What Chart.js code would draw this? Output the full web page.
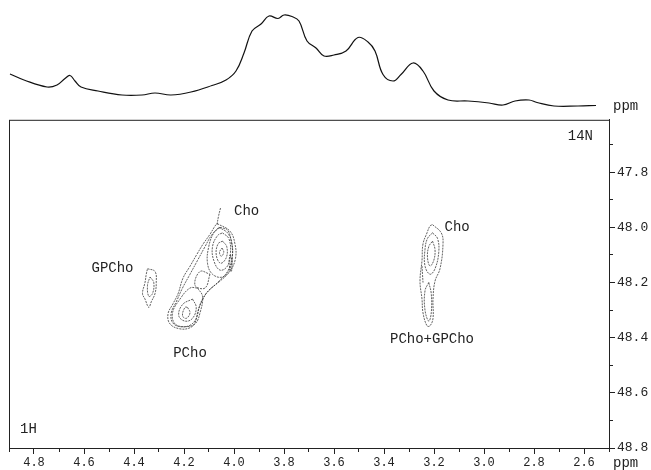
<!DOCTYPE html>
<html>
<head>
<meta charset="utf-8">
<title>1H-14N correlation spectrum</title>
<script src="https://cdn.jsdelivr.net/npm/chart.js"></script>
<style>
  body{margin:0;background:#fff;}
  #wrap{position:relative;width:651px;height:470px;}
  #specTop{position:absolute;left:0;top:0;}
  #map2d{position:absolute;left:0;top:110px;}
</style>
</head>
<body>
<div id="wrap">
  <canvas id="specTop" width="651" height="115"></canvas>
  <canvas id="map2d" width="651" height="360"></canvas>
</div>
<script>
// 1H projection (top trace)
const specPpm = [4.90,4.844,4.752,4.712,4.68,4.66,4.64,4.616,4.548,4.452,4.372,4.32,4.256,4.176,4.092,4.036,3.996,3.964,3.932,3.896,3.864,3.828,3.804,3.772,3.744,3.712,3.676,3.644,3.604,3.556,3.508,3.468,3.44,3.408,3.368,3.336,3.288,3.248,3.204,3.148,3.068,2.984,2.928,2.88,2.824,2.792,2.724,2.628,2.556];
const specInt = [41,35,28,30,36.5,39.5,34,28,24,20,20,22,20,23,29.5,35,44,62,84,91,99,96.5,100,98.5,94,74,67,59,60,64,77.5,73,64,40.5,34,40.5,52,44,24,15,14,12,10,14,15,12.5,9,9,9.5];

// contour loops [1H ppm, 14N ppm]
const mainOuter = [[4.072,47.986],[4.02,48.014],[4.0,48.061],[3.998,48.112],[4.02,48.159],[4.06,48.195],[4.108,48.231],[4.132,48.267],[4.148,48.303],[4.16,48.346],[4.18,48.364],[4.22,48.368],[4.26,48.35],[4.268,48.314],[4.248,48.277],[4.228,48.241],[4.208,48.184],[4.18,48.141],[4.152,48.097],[4.128,48.061],[4.10,48.025],[4.08,47.995],[4.072,47.986]];
const mainMid = [[4.065,48.0],[4.03,48.02],[4.012,48.06],[4.012,48.11],[4.03,48.16],[4.07,48.2],[4.115,48.24],[4.14,48.28],[4.155,48.33],[4.18,48.355],[4.22,48.36],[4.25,48.345],[4.255,48.31],[4.235,48.27],[4.21,48.22],[4.18,48.17],[4.15,48.12],[4.12,48.07],[4.095,48.03],[4.065,48.0]];
const choTip = [[4.072,47.99],[4.066,47.96],[4.058,47.93]];
const choIn1 = [[4.06,48.0],[4.03,48.01],[4.015,48.05],[4.01,48.10],[4.02,48.15],[4.05,48.18],[4.09,48.17],[4.11,48.13],[4.105,48.07],[4.085,48.02],[4.06,48.0]];
const choIn2 = [[4.05,48.02],[4.025,48.04],[4.018,48.09],[4.03,48.14],[4.06,48.155],[4.085,48.12],[4.09,48.07],[4.07,48.03],[4.05,48.02]];
const choIn3 = [[4.05,48.05],[4.033,48.07],[4.035,48.11],[4.058,48.13],[4.075,48.1],[4.068,48.06],[4.05,48.05]];
const choIn4 = [[4.052,48.075],[4.045,48.09],[4.055,48.105],[4.062,48.09],[4.052,48.075]];
const choDark = [[4.02,48.10],[4.012,48.12],[4.015,48.16],[4.024,48.13],[4.02,48.10]];
const midIn = [[4.10,48.17],[4.12,48.22],[4.16,48.21],[4.14,48.16],[4.10,48.17]];
const pchoIn1 = [[4.15,48.22],[4.13,48.25],[4.14,48.31],[4.16,48.35],[4.20,48.36],[4.24,48.35],[4.25,48.31],[4.22,48.26],[4.18,48.22],[4.15,48.22]];
const pchoIn2 = [[4.17,48.26],[4.155,48.29],[4.17,48.33],[4.20,48.34],[4.225,48.32],[4.21,48.28],[4.17,48.26]];
const pchoIn3 = [[4.19,48.29],[4.18,48.31],[4.195,48.33],[4.21,48.32],[4.20,48.29],[4.19,48.29]];
const gpOuter = [[4.35,48.15],[4.32,48.16],[4.315,48.20],[4.32,48.24],[4.335,48.27],[4.345,48.29],[4.36,48.26],[4.37,48.24],[4.36,48.20],[4.355,48.17],[4.35,48.15]];
const gpIn = [[4.34,48.18],[4.325,48.20],[4.33,48.24],[4.345,48.25],[4.35,48.21],[4.34,48.18]];
const rOuter = [[3.21,47.99],[3.175,48.02],[3.168,48.06],[3.18,48.15],[3.20,48.195],[3.208,48.26],[3.208,48.33],[3.22,48.357],[3.232,48.357],[3.248,48.31],[3.252,48.26],[3.26,48.195],[3.252,48.12],[3.248,48.06],[3.232,48.02],[3.22,47.995],[3.21,47.99]];
const rIn1 = [[3.21,48.02],[3.19,48.04],[3.185,48.09],[3.20,48.15],[3.22,48.17],[3.24,48.14],[3.24,48.08],[3.23,48.04],[3.21,48.02]];
const rIn2 = [[3.21,48.05],[3.20,48.08],[3.205,48.12],[3.22,48.14],[3.23,48.11],[3.225,48.07],[3.21,48.05]];
const rLow = [[3.225,48.20],[3.215,48.24],[3.215,48.31],[3.225,48.34],[3.24,48.30],[3.24,48.23],[3.225,48.20]];
const rDark = [[3.252,48.14],[3.25,48.17],[3.248,48.20]];
const contours = [mainOuter,mainMid,choTip,choIn1,choIn2,choIn3,choIn4,choDark,midIn,pchoIn1,pchoIn2,pchoIn3,gpOuter,gpIn,rOuter,rIn1,rIn2,rLow,rDark];

// peak labels
const labelNames = ['Cho','GPCho','PCho','Cho','PCho+GPCho'];
const labelX = [4.004,4.49,4.18,3.162,3.212];
const labelY = [47.94,48.15,48.455,48.0,48.405];
const labelAlign = ['left','center','center','left','center'];

const xMin = 2.504, xMax = 4.904;
const yMin = 47.61, yMax = 48.8;
const MONO = '"Liberation Mono", "DejaVu Sans Mono", monospace';
const FONT = '14px ' + MONO;
const INK = '#222';

function isMajor(v){ return Math.round(v*10) % 2 === 0; }

// top 1D trace
new Chart(document.getElementById('specTop'), {
  type: 'line',
  data: {
    labels: specPpm,
    datasets: [{
      data: specPpm.map((p,i)=>({x:p, y:specInt[i]})),
      borderColor: '#111', borderWidth: 1.2, pointRadius: 0, tension: 0.4, fill: false
    }]
  },
  options: {
    responsive: false, animation: false,
    layout: {padding: {left: 9, right: 42, top: 0, bottom: 0}},
    plugins: {legend: {display: false}, tooltip: {enabled: false}},
    scales: {
      x: {type: 'linear', reverse: true, min: xMin, max: xMax, display: false},
      y: {min: 0, max: 115, display: false}
    }
  },
  plugins: [{
    id: 'ppmTop',
    afterDraw(chart){
      const c = chart.ctx;
      c.save(); c.font = FONT; c.fillStyle = INK; c.textBaseline = 'middle'; c.textAlign = 'left';
      c.fillText('ppm', chart.chartArea.right + 4, 106);
      c.restore();
    }
  }]
});

// 2D map
const tickStyle = {
  tickLength: 6, drawOnChartArea: false, color: INK,
  tickBorderDash: c => (c.tick && isMajor(c.tick.value)) ? [] : [3, 10]
};

new Chart(document.getElementById('map2d'), {
  type: 'scatter',
  data: {
    datasets: contours.map(loop => ({
      data: loop.map(p => ({x: p[0], y: p[1]})),
      showLine: true, pointRadius: 0, borderColor: '#3a3a3a', borderWidth: 0.8,
      borderDash: [2, 1], tension: 0.4
    }))
  },
  options: {
    responsive: false, animation: false,
    layout: {padding: {left: 9, top: 4, right: 0, bottom: 0}},
    plugins: {legend: {display: false}, tooltip: {enabled: false}},
    scales: {
      x: {
        type: 'linear', position: 'bottom', reverse: true, min: xMin, max: xMax,
        ticks: {stepSize: 0.1, includeBounds: false, autoSkip: false, maxRotation: 0, padding: 2,
                font: {family: MONO, size: 12}, color: INK,
                callback: v => isMajor(v) ? v.toFixed(1) : ''},
        grid: tickStyle,
        border: {color: INK, width: 1},
        afterFit: s => { s.height = 22; }
      },
      y: {
        type: 'linear', position: 'right', reverse: true, min: yMin, max: yMax,
        ticks: {stepSize: 0.1, includeBounds: false, autoSkip: false, padding: 2,
                font: {family: MONO, size: 13}, color: INK,
                callback: v => isMajor(v) ? v.toFixed(1) : ''},
        grid: tickStyle,
        border: {color: INK, width: 1},
        afterFit: s => { s.width = 42; }
      }
    }
  },
  plugins: [{
    id: 'boxAndLabels',
    afterDraw(chart){
      const c = chart.ctx, a = chart.chartArea;
      const xs = chart.scales.x, ys = chart.scales.y;
      c.save();
      c.strokeStyle = INK; c.lineWidth = 1;
      c.strokeRect(a.left + 0.5, a.top + 0.5, a.right - a.left, a.bottom - a.top);
      c.font = FONT; c.fillStyle = INK; c.textBaseline = 'middle';
      labelNames.forEach((t, i) => {
        c.textAlign = labelAlign[i];
        c.fillText(t, xs.getPixelForValue(labelX[i]), ys.getPixelForValue(labelY[i]));
      });
      c.textAlign = 'right';
      c.fillText('14N', a.right - 16, a.top + 16);
      c.textAlign = 'left';
      c.fillText('1H', a.left + 11, a.bottom - 19);
      c.fillText('ppm', a.right + 4, a.bottom + 15);
      c.restore();
    }
  }]
});
</script>
</body>
</html>
